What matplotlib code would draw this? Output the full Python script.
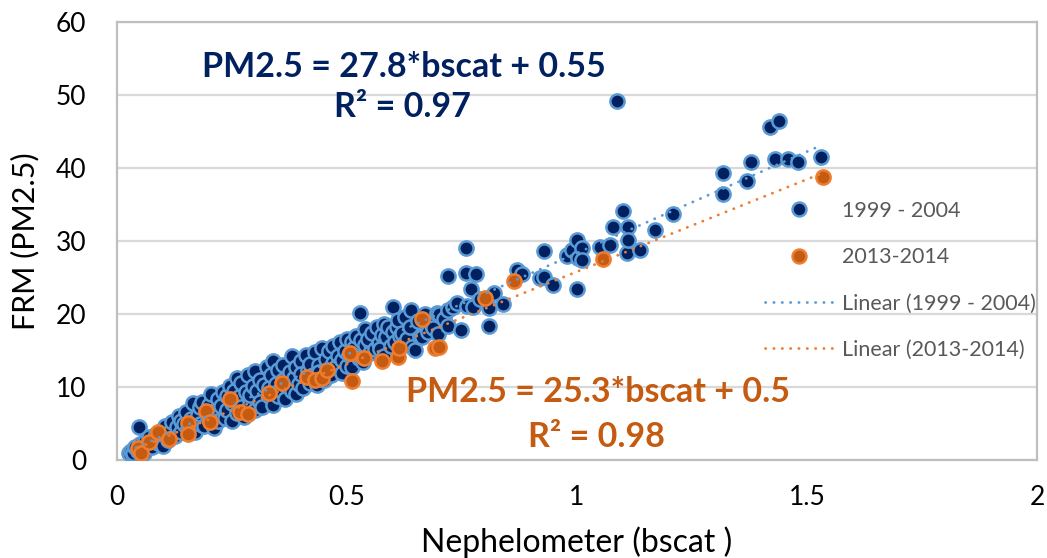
import matplotlib
matplotlib.use("Agg")
import matplotlib.pyplot as plt
from matplotlib.lines import Line2D

plt.rcParams['font.family'] = ['Lato', 'DejaVu Sans']

# 1999 - 2004 nephelometer (bscat) vs FRM PM2.5
blue_x = [0.025, 0.03, 0.035, 0.04, 0.045, 0.05, 0.048, 0.055, 0.06, 0.058,
          0.065, 0.07, 0.075, 0.08, 0.085, 0.09, 0.095, 0.1, 0.1,
          0.105, 0.11, 0.115, 0.12, 0.125, 0.13, 0.135, 0.14, 0.14,
          0.145, 0.15, 0.155, 0.16, 0.165, 0.17, 0.175, 0.18, 0.18,
          0.185, 0.19, 0.195, 0.2, 0.2, 0.205, 0.21, 0.215, 0.22, 0.22,
          0.225, 0.23, 0.235, 0.24, 0.24, 0.245, 0.25, 0.25, 0.255, 0.26, 0.26,
          0.265, 0.27, 0.27, 0.275, 0.28, 0.285, 0.29, 0.29, 0.295, 0.3, 0.3,
          0.305, 0.31, 0.31, 0.315, 0.32, 0.325, 0.33, 0.33, 0.335, 0.34, 0.34,
          0.345, 0.35, 0.35, 0.355, 0.36, 0.36, 0.365, 0.37, 0.375, 0.38, 0.38,
          0.385, 0.39, 0.39, 0.395, 0.4, 0.4, 0.405, 0.41, 0.415, 0.42, 0.42,
          0.425, 0.43, 0.435, 0.44, 0.44, 0.445, 0.45, 0.455, 0.46, 0.46,
          0.465, 0.47, 0.47, 0.475, 0.48, 0.485, 0.49, 0.49, 0.495, 0.5, 0.5,
          0.505, 0.51, 0.51, 0.515, 0.52, 0.525, 0.528, 0.53, 0.535, 0.54, 0.54,
          0.545, 0.55, 0.555, 0.56, 0.565, 0.57, 0.572, 0.575, 0.58, 0.58,
          0.585, 0.59, 0.595, 0.6, 0.6, 0.605, 0.609, 0.61, 0.615, 0.62, 0.62,
          0.625, 0.63, 0.637, 0.639, 0.641, 0.648, 0.655, 0.659, 0.663, 0.67,
          0.675, 0.685, 0.687, 0.696, 0.698, 0.70,
          0.71, 0.72, 0.72, 0.72, 0.73, 0.739, 0.748, 0.759, 0.759, 0.761,
          0.77, 0.774, 0.78, 0.79,
          0.809, 0.809, 0.82, 0.839, 0.87, 0.88, 0.92, 0.928, 0.928, 0.948,
          0.978, 0.978, 0.989, 1.0, 1.0, 1.002, 1.011, 1.011, 1.05, 1.072,
          1.078, 1.087, 1.1, 1.109, 1.111, 1.111, 1.137, 1.17, 1.209,
          1.317, 1.317, 1.37, 1.378, 1.42, 1.439, 1.43, 1.459, 1.48, 1.53]
blue_y = [1.0, 1.3, 0.9, 1.8, 1.2, 2.2, 4.5, 1.5, 2.6, 1.0,
          2.0, 3.1, 1.8, 2.8, 3.6, 2.3, 4.0, 3.2, 1.9,
          4.6, 2.7, 3.9, 5.2, 3.3, 4.5, 6.0, 3.8, 5.4,
          4.9, 6.6, 4.2, 5.6, 7.8, 3.9, 6.2, 5.0, 7.2,
          8.0, 4.7, 6.5, 5.6, 7.6, 9.0, 4.4, 6.9, 8.3, 5.3,
          7.4, 9.3, 5.8, 6.8, 8.7, 10.2, 5.3, 7.8, 9.5, 6.4, 11.3,
          8.6, 7.2, 10.5, 5.9, 9.3, 11.6, 7.7, 8.9, 10.2, 6.8, 12.2,
          9.5, 8.0, 11.0, 7.2, 10.3, 12.8, 8.7, 9.9, 11.7, 7.5, 13.6,
          10.4, 8.8, 12.3, 9.6, 11.0, 13.0, 8.3, 10.1, 12.0, 9.4, 14.2,
          11.3, 9.1, 12.8, 10.4, 13.6, 11.8, 9.8, 14.4, 12.3, 10.6, 13.1,
          11.7, 14.8, 10.3, 13.0, 12.1, 15.3, 11.0, 13.8, 12.4, 14.9,
          11.6, 13.3, 15.6, 12.8, 14.2, 16.1, 11.9, 13.7, 15.0, 12.9, 16.6,
          14.4, 16.2, 12.7, 15.3, 17.0, 14.0, 20.1, 16.4, 13.4, 15.8, 17.9,
          16.6, 14.7, 17.4, 15.2, 18.2, 16.0, 15.2, 17.1, 14.3, 18.6,
          16.8, 18.2, 15.6, 21.0, 17.5, 16.2, 18.2, 19.2, 17.0, 17.4, 15.8,
          19.6, 16.6, 18.2, 20.5, 15.5, 15.1, 19.0, 16.8, 16.8, 20.0,
          17.6, 18.5, 18.1, 20.1, 17.2, 20.0,
          19.3, 20.5, 25.2, 18.4, 21.0, 21.5, 17.8, 25.6, 29.0, 21.1,
          23.4, 20.9, 25.5, 22.0,
          20.8, 18.4, 22.9, 21.4, 26.0, 25.5, 24.9, 25.1, 28.6, 24.0,
          28.1, 27.9, 28.8, 30.1, 23.4, 27.7, 29.0, 27.4, 29.2, 29.5,
          31.9, 49.2, 34.1, 28.4, 31.9, 30.1, 28.8, 31.5, 33.7,
          39.3, 36.4, 38.2, 40.8, 45.6, 46.4, 41.2, 41.2, 40.8, 41.5]

# 2013-2014
orange_x = [0.046, 0.052, 0.07, 0.089, 0.113, 0.154, 0.154, 0.193, 0.202, 0.246,
            0.267, 0.285, 0.33, 0.359, 0.413, 0.43, 0.446, 0.456, 0.507, 0.511,
            0.537, 0.576, 0.611, 0.613, 0.663, 0.691, 0.700, 0.8, 0.863, 1.057,
            1.535]
orange_y = [1.6, 1.0, 2.5, 3.8, 2.9, 5.1, 3.6, 6.7, 5.2, 8.4,
            6.6, 6.3, 9.2, 10.5, 11.4, 11.0, 11.2, 12.3, 14.7, 10.8,
            14.0, 13.6, 14.1, 15.3, 19.3, 15.3, 15.5, 22.2, 24.5, 27.5,
            38.8]

# linear fits as printed on the chart
blue_slope, blue_icpt, blue_r2 = 27.8, 0.55, 0.97
orange_slope, orange_icpt, orange_r2 = 25.3, 0.5, 0.98

NAVY = '#002060'
LBLUE = '#5B9BD5'
DORANGE = '#C55A11'
ORANGE = '#ED7D31'
DOTS = (0, (0.1, 2.9))

fig = plt.figure(figsize=(10.47, 5.58), dpi=100)
ax = fig.add_axes([117/1047, 98/558, 920/1047, 438/558])

ax.scatter(blue_x, blue_y, s=105, c=NAVY, edgecolors=LBLUE, linewidths=1.8, zorder=3)
ax.scatter(orange_x, orange_y, s=105, c=DORANGE, edgecolors=ORANGE, linewidths=1.8, zorder=4)

bx = [min(blue_x), max(blue_x)]
ox = [min(orange_x), max(orange_x)]
ax.plot(bx, [blue_slope * v + blue_icpt for v in bx], color=LBLUE, lw=2.0,
        linestyle=DOTS, dash_capstyle='round', zorder=5)
ax.plot(ox, [orange_slope * v + orange_icpt for v in ox], color=ORANGE, lw=2.0,
        linestyle=DOTS, dash_capstyle='round', zorder=5)

ax.set_xlim(0, 2)
ax.set_ylim(0, 60)
ax.set_xticks([0, 0.5, 1, 1.5, 2])
ax.set_xticklabels(['0', '0.5', '1', '1.5', '2'])
ax.set_yticks(range(0, 61, 10))
ax.tick_params(axis='both', length=0, labelsize=19, colors='black')
ax.tick_params(axis='y', pad=22)
ax.tick_params(axis='x', pad=18)
ax.grid(axis='y', color='#D9D9D9', lw=1.6)
ax.set_axisbelow(True)
for sp in ax.spines.values():
    sp.set_color('#BFBFBF')
    sp.set_linewidth(1.6)

ax.set_xlabel('Nephelometer (bscat )', fontsize=23, labelpad=12)
ax.set_ylabel('FRM (PM2.5)', fontsize=22, labelpad=12)

ax.text(0.624, 53.8, f'PM2.5 = {blue_slope}*bscat + {blue_icpt}', color=NAVY,
        fontsize=24.5, fontweight='bold', ha='center', va='center')
ax.text(0.62, 48.4, f'R² = {blue_r2}', color=NAVY,
        fontsize=24.5, fontweight='bold', ha='center', va='center')
ax.text(1.045, 9.3, f'PM2.5 = {orange_slope}*bscat + {orange_icpt}', color=DORANGE,
        fontsize=24.5, fontweight='bold', ha='center', va='center')
ax.text(1.043, 3.1, f'R² = {orange_r2}', color=DORANGE,
        fontsize=24.5, fontweight='bold', ha='center', va='center')

handles = [
    Line2D([], [], ls='none', marker='o', ms=10, mfc=NAVY, mec=LBLUE, mew=1.8),
    Line2D([], [], ls='none', marker='o', ms=10, mfc=DORANGE, mec=ORANGE, mew=1.8),
    Line2D([], [], color=LBLUE, lw=2.0, ls=DOTS, dash_capstyle='round'),
    Line2D([], [], color=ORANGE, lw=2.0, ls=DOTS, dash_capstyle='round'),
]
labels = ['1999 - 2004', '2013-2014', 'Linear (1999 - 2004)', 'Linear (2013-2014)']
leg = ax.legend(handles, labels, loc='center left', bbox_to_anchor=(0.704, 0.41),
                frameon=False, fontsize=15.5, handlelength=3.2, handletextpad=0.37,
                labelspacing=1.22, borderpad=0, borderaxespad=0)
for t in leg.get_texts():
    t.set_color('#595959')

fig.savefig('out.png', dpi=100)
